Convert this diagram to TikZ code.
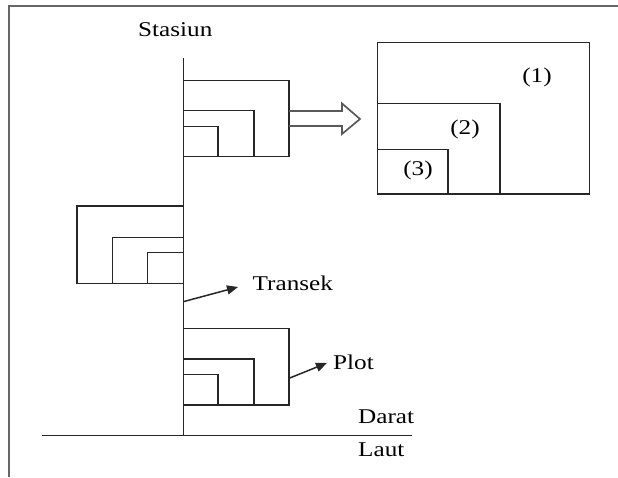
\documentclass[tikz,border=0pt]{standalone}
\usepackage{fontspec}
\setmainfont{Liberation Serif}[FakeStretch=1.2]
\usetikzlibrary{arrows.meta}
\begin{document}
\begin{tikzpicture}[x=1pt,y=-1pt,
  ln/.style={line width=1.7pt,draw=black!85},
  frm/.style={line width=2.2pt,draw=black!60},
  lbl/.style={inner sep=0pt,anchor=base west,font=\fontsize{21}{25}\selectfont},
  num/.style={inner sep=0pt,anchor=center,font=\fontsize{21}{25}\selectfont},
  pointer/.style={line width=1.5pt,draw=black!85,-{Triangle[length=11pt,width=9pt]}},
  blockarrow/.style={line width=1.7pt,draw=black!65,line join=miter}]
\useasboundingbox (0,0) rectangle (618,477);
% frame (cropped)
\draw[frm] (9,477) -- (9,6) -- (618,6);
% transect and shoreline
\coordinate (ttop) at (183.5,58);
\coordinate (tbot) at (183.5,435.5);
\draw[ln] (ttop) -- (tbot);
\coordinate (gl) at (42,435.5);
\coordinate (gr) at (412,435.5);
\draw[ln] (gl) -- (gr);
% top plot set
\draw[ln] (183.5,80.5) -- (289,80.5) -- (289,156.5) -- (183.5,156.5);
\draw[ln] (183.5,110.5) -- (254,110.5) -- (254,156.5);
\draw[ln] (183.5,126.5) -- (218,126.5) -- (218,156.5);
% left plot set
\draw[ln] (183.5,206) -- (77,206) -- (77,283.5) -- (183.5,283.5);
\draw[ln] (183.5,237.5) -- (112.5,237.5) -- (112.5,283.5);
\draw[ln] (183.5,252.5) -- (147.5,252.5) -- (147.5,283.5);
% bottom plot set
\draw[ln] (183.5,328.5) -- (289,328.5) -- (289,405) -- (183.5,405);
\draw[ln] (183.5,359) -- (254,359) -- (254,405);
\draw[ln] (183.5,374.5) -- (218,374.5) -- (218,405);
% block arrow
\draw[blockarrow] (289,111) -- (342,111) -- (342,103.5) -- (360,119) -- (342,134) -- (342,126) -- (289,126);
% enlarged plot
\draw[ln] (377.5,42.5) rectangle (589.5,194);
\draw[ln] (377.5,103.5) -- (500,103.5) -- (500,194);
\draw[ln] (377.5,149.5) -- (448,149.5) -- (448,194);
\node[num] (n1) at (537,77) {(1)};
\node[num] (n2) at (465,129) {(2)};
\node[num] (n3) at (418,170) {(3)};
% labels
\node[lbl] (stasiun) at (138,36.7) {Stasiun};
\node[lbl] (transek) at (252.5,290) {Transek};
\node[lbl] (plot) at (333,369.3) {Plot};
\node[lbl] (darat) at (358,423.3) {Darat};
\node[lbl] (laut) at (358,456) {Laut};
% pointers
\coordinate (ta) at (184,301.5);
\coordinate (tb) at (238,287);
\draw[pointer] (ta) -- (tb);
\coordinate (pa) at (289,378.3);
\coordinate (pb) at (327,363);
\draw[pointer] (pa) -- (pb);
\end{tikzpicture}
\end{document}
